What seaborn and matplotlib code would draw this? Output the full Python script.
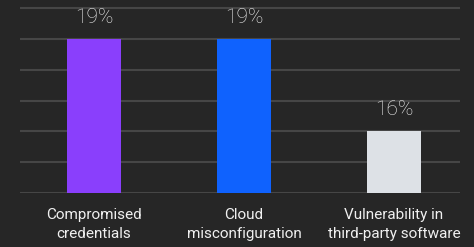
import matplotlib
matplotlib.use('Agg')
import matplotlib.pyplot as plt
import seaborn as sns
import pandas as pd

# chart values
categories = ['Compromised\ncredentials', 'Cloud\nmisconfiguration',
              'Vulnerability in\nthird-party software']
values = [19, 19, 16]
bar_colors = ['#8a3ffc', '#0f62fe', '#dde1e6']

df = pd.DataFrame({'vector': categories, 'share': values})

sns.set_style('dark')
plt.rcParams['font.family'] = ['Roboto', 'DejaVu Sans']

fig = plt.figure(figsize=(4.74, 2.47), dpi=100, facecolor='#262626')
ax = fig.add_axes([20 / 474, 54 / 247, 440 / 474, 188 / 247])
ax.set_facecolor('#262626')

sns.barplot(data=df, x='vector', y='share', hue='vector', palette=bar_colors,
            width=0.36, legend=False, ax=ax, zorder=3, saturation=1,
            linewidth=0)

# percentage labels above bars
for i, v in enumerate(values):
    ax.text(i, v + 0.7, f'{v}%', ha='center', va='center', color='#f0f0f0',
            fontsize=15, fontweight='light', clip_on=False)

ax.set_ylim(14, 20.1)
ax.set_xlim(-0.493, 2.44)
ax.set_yticks(range(14, 21))
ax.set_yticklabels([])
ax.tick_params(axis='both', length=0)
ax.tick_params(axis='x', colors='#f0f0f0', labelsize=11, pad=11)
for lbl in ax.get_xticklabels():
    lbl.set_linespacing(1.45)
ax.grid(axis='y', color='#464646', linewidth=1.5, zorder=0)
ax.grid(axis='x', visible=False)
ax.set_xlabel('')
ax.set_ylabel('')
for s in ax.spines.values():
    s.set_visible(False)

fig.savefig('out.png', dpi=100, facecolor='#262626')
